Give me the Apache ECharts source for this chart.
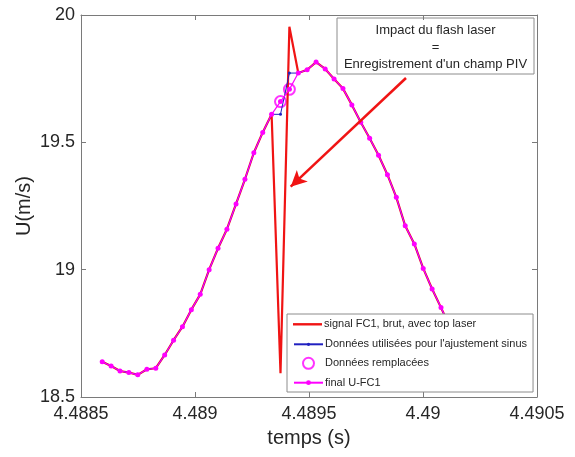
<!DOCTYPE html>
<html>
<head>
<meta charset="utf-8">
<script src="https://cdn.jsdelivr.net/npm/echarts@6/dist/echarts.min.js"></script>
<style>html,body{margin:0;padding:0;background:#fff;}#c{width:575px;height:457px;}</style>
</head>
<body>
<div id="c"></div>
<script>
// time samples (s)
const times = [4.488593,4.488632,4.488671,4.488710,4.488749,4.488789,4.488828,4.488867,4.488906,4.488945,
  4.488984,4.489023,4.489062,4.489101,4.489140,4.489180,4.489219,4.489258,4.489297,4.489336,
  4.489375,4.489414,4.489453,4.489492,4.489531,4.489571,4.489610,4.489649,4.489688,4.489727,
  4.489766,4.489805,4.489844,4.489883,4.489922,4.489962,4.490001,4.490040,4.490079,4.490118,
  4.490157,4.490196];
// final U-FC1 (m/s)
const finalU = [18.638,18.622,18.602,18.596,18.587,18.609,18.613,18.665,18.723,18.776,
  18.843,18.903,19.000,19.084,19.159,19.258,19.355,19.459,19.539,19.610,
  19.660,19.708,19.772,19.785,19.815,19.788,19.749,19.711,19.647,19.579,
  19.516,19.449,19.373,19.284,19.172,19.101,19.005,18.924,18.851,18.775,
  18.700,18.625];
// raw signal with laser top
const rawU = [18.638,18.622,18.602,18.596,18.587,18.609,18.613,18.665,18.723,18.776,
  18.843,18.903,19.000,19.084,19.159,19.258,19.355,19.459,19.539,19.610,
  18.593,19.954,19.772,19.785,19.815,19.788,19.749,19.711,19.647,19.579,
  19.516,19.449,19.373,19.284,19.172,19.101,19.005,18.924,18.851,18.775,
  18.700,18.625];
// data used for sine fit
const fitU = [18.638,18.622,18.602,18.596,18.587,18.609,18.613,18.665,18.723,18.776,
  18.843,18.903,19.000,19.084,19.159,19.258,19.355,19.459,19.539,19.610,
  19.610,19.772,19.772,19.785,19.815,19.788,19.749,19.711,19.647,19.579,
  19.516,19.449,19.373,19.284,19.172,19.101,19.005,18.924,18.851,18.775,
  18.700,18.625];
// replaced samples
const replacedIdx = [20, 21];
const xTicks = ['4.4885','4.489','4.4895','4.49','4.4905'];
const yTicks = ['18.5','19','19.5','20'];
const names = ['signal FC1, brut, avec top laser','Données utilisées pour l\'ajustement sinus','Données remplacées','final U-FC1'];

const pair = (arr) => times.map((t, i) => [t, arr[i]]);
const replaced = replacedIdx.map(i => [times[i], finalU[i]]);

const FONT = 'Liberation Sans, Arial, Helvetica, sans-serif';
const axisCol = '#7a7a7a';
const txtCol = '#262626';

const chart = echarts.init(document.getElementById('c'), null, {renderer: 'canvas'});
const baseX = {
  type: 'value', min: +xTicks[0], max: +xTicks[xTicks.length - 1], interval: 0.0005,
  axisLine: {show: true, onZero: false, lineStyle: {color: axisCol, width: 1}},
  axisTick: {show: true, inside: true, length: 5, lineStyle: {color: axisCol}},
  splitLine: {show: false}
};
const baseY = {
  type: 'value', min: +yTicks[0], max: +yTicks[yTicks.length - 1], interval: 0.5,
  axisLine: {show: true, onZero: false, lineStyle: {color: axisCol, width: 1}},
  axisTick: {show: true, inside: true, length: 5, lineStyle: {color: axisCol}},
  splitLine: {show: false}
};
const legendText = {fontSize: 11, lineHeight: 14, color: txtCol, fontFamily: FONT, padding: [0, 0, 0, -3]};
const legendBase = {
  orient: 'horizontal', left: 293, padding: 0, itemWidth: 29,
  selectedMode: false, textStyle: legendText
};
chart.setOption({
  animation: false,
  backgroundColor: '#fff',
  textStyle: {fontFamily: FONT},
  grid: {left: 81, right: 38, top: 15, bottom: 60},
  xAxis: [
    Object.assign({}, baseX, {
      position: 'bottom',
      name: 'temps (s)', nameLocation: 'middle', nameGap: 31, nameMoveOverlap: false,
      nameTextStyle: {fontSize: 20, color: txtCol, fontFamily: FONT},
      axisLabel: {fontSize: 18, color: txtCol, margin: 8, fontFamily: FONT,
        formatter: v => String(+v.toFixed(4))}
    }),
    Object.assign({}, baseX, {position: 'top', axisLabel: {show: false}})
  ],
  yAxis: [
    Object.assign({}, baseY, {
      position: 'left',
      name: 'U(m/s)', nameLocation: 'middle', nameGap: 47, nameMoveOverlap: false,
      nameTextStyle: {fontSize: 20, color: txtCol, fontFamily: FONT},
      axisLabel: {fontSize: 18, color: txtCol, margin: 6, fontFamily: FONT,
        formatter: v => String(+v.toFixed(1))}
    }),
    Object.assign({}, baseY, {position: 'right', axisLabel: {show: false}})
  ],
  legend: [
    // this one carries the framed white box of the whole legend
    Object.assign({}, legendBase, {
      left: 287, top: 314, itemHeight: 4, data: [names[1]],
      padding: [23.3, 6, 40.7, 6],
      backgroundColor: '#fff', borderColor: '#8c8c8c', borderWidth: 1
    }),
    Object.assign({}, legendBase, {top: 317.3, itemHeight: 2.4, data: [{name: names[0], icon: 'rect'}]}),
    Object.assign({}, legendBase, {left: 302, top: 356.3, itemHeight: 11, data: [names[2]]}),
    Object.assign({}, legendBase, {top: 375.7, itemHeight: 6, data: [names[3]]})
  ],
  series: [
    {
      name: names[0], type: 'line', data: pair(rawU),
      showSymbol: false, symbol: 'none',
      lineStyle: {color: '#f01414', width: 2.2}, itemStyle: {color: '#f01414'},
      silent: true,
      markLine: {
        silent: true, animation: false,
        symbol: ['none', 'arrow'], symbolSize: [12, 16],
        label: {show: false},
        lineStyle: {color: '#f01414', width: 2.5, type: 'solid'},
        emphasis: {disabled: true},
        data: [[{coord: [4.4899254, 19.7526]}, {coord: [4.4894197, 19.3258]}]]
      }
    },
    {
      name: names[1], type: 'line', data: pair(fitU),
      symbol: 'circle', symbolSize: 3, showAllSymbol: true,
      lineStyle: {color: '#2020c0', width: 1}, itemStyle: {color: '#2020c0'},
      silent: true
    },
    {
      name: names[2], type: 'scatter', data: replaced,
      symbol: 'emptyCircle', symbolSize: 11,
      itemStyle: {color: '#ff00ff', borderColor: '#ff00ff', borderWidth: 2.4},
      silent: true
    },
    {
      name: names[3], type: 'line', data: pair(finalU),
      symbol: 'circle', symbolSize: 5, showAllSymbol: true,
      lineStyle: {color: '#ff00ff', width: 1.2}, itemStyle: {color: '#ff00ff'},
      silent: true
    }
  ],
  graphic: [
    {
      type: 'group', z: 100,
      children: [
        {type: 'rect', shape: {x: 337, y: 18, width: 197, height: 56},
         style: {fill: '#fff', stroke: '#8c8c8c', lineWidth: 1}},
        {type: 'text', x: 435.5, y: 47,
         style: {text: 'Impact du flash laser\n=\nEnregistrement d\'un champ PIV',
           fill: txtCol, font: '13px ' + FONT, textAlign: 'center', textVerticalAlign: 'middle',
           lineHeight: 17}}
      ]
    }
  ]
});
</script>
</body>
</html>
